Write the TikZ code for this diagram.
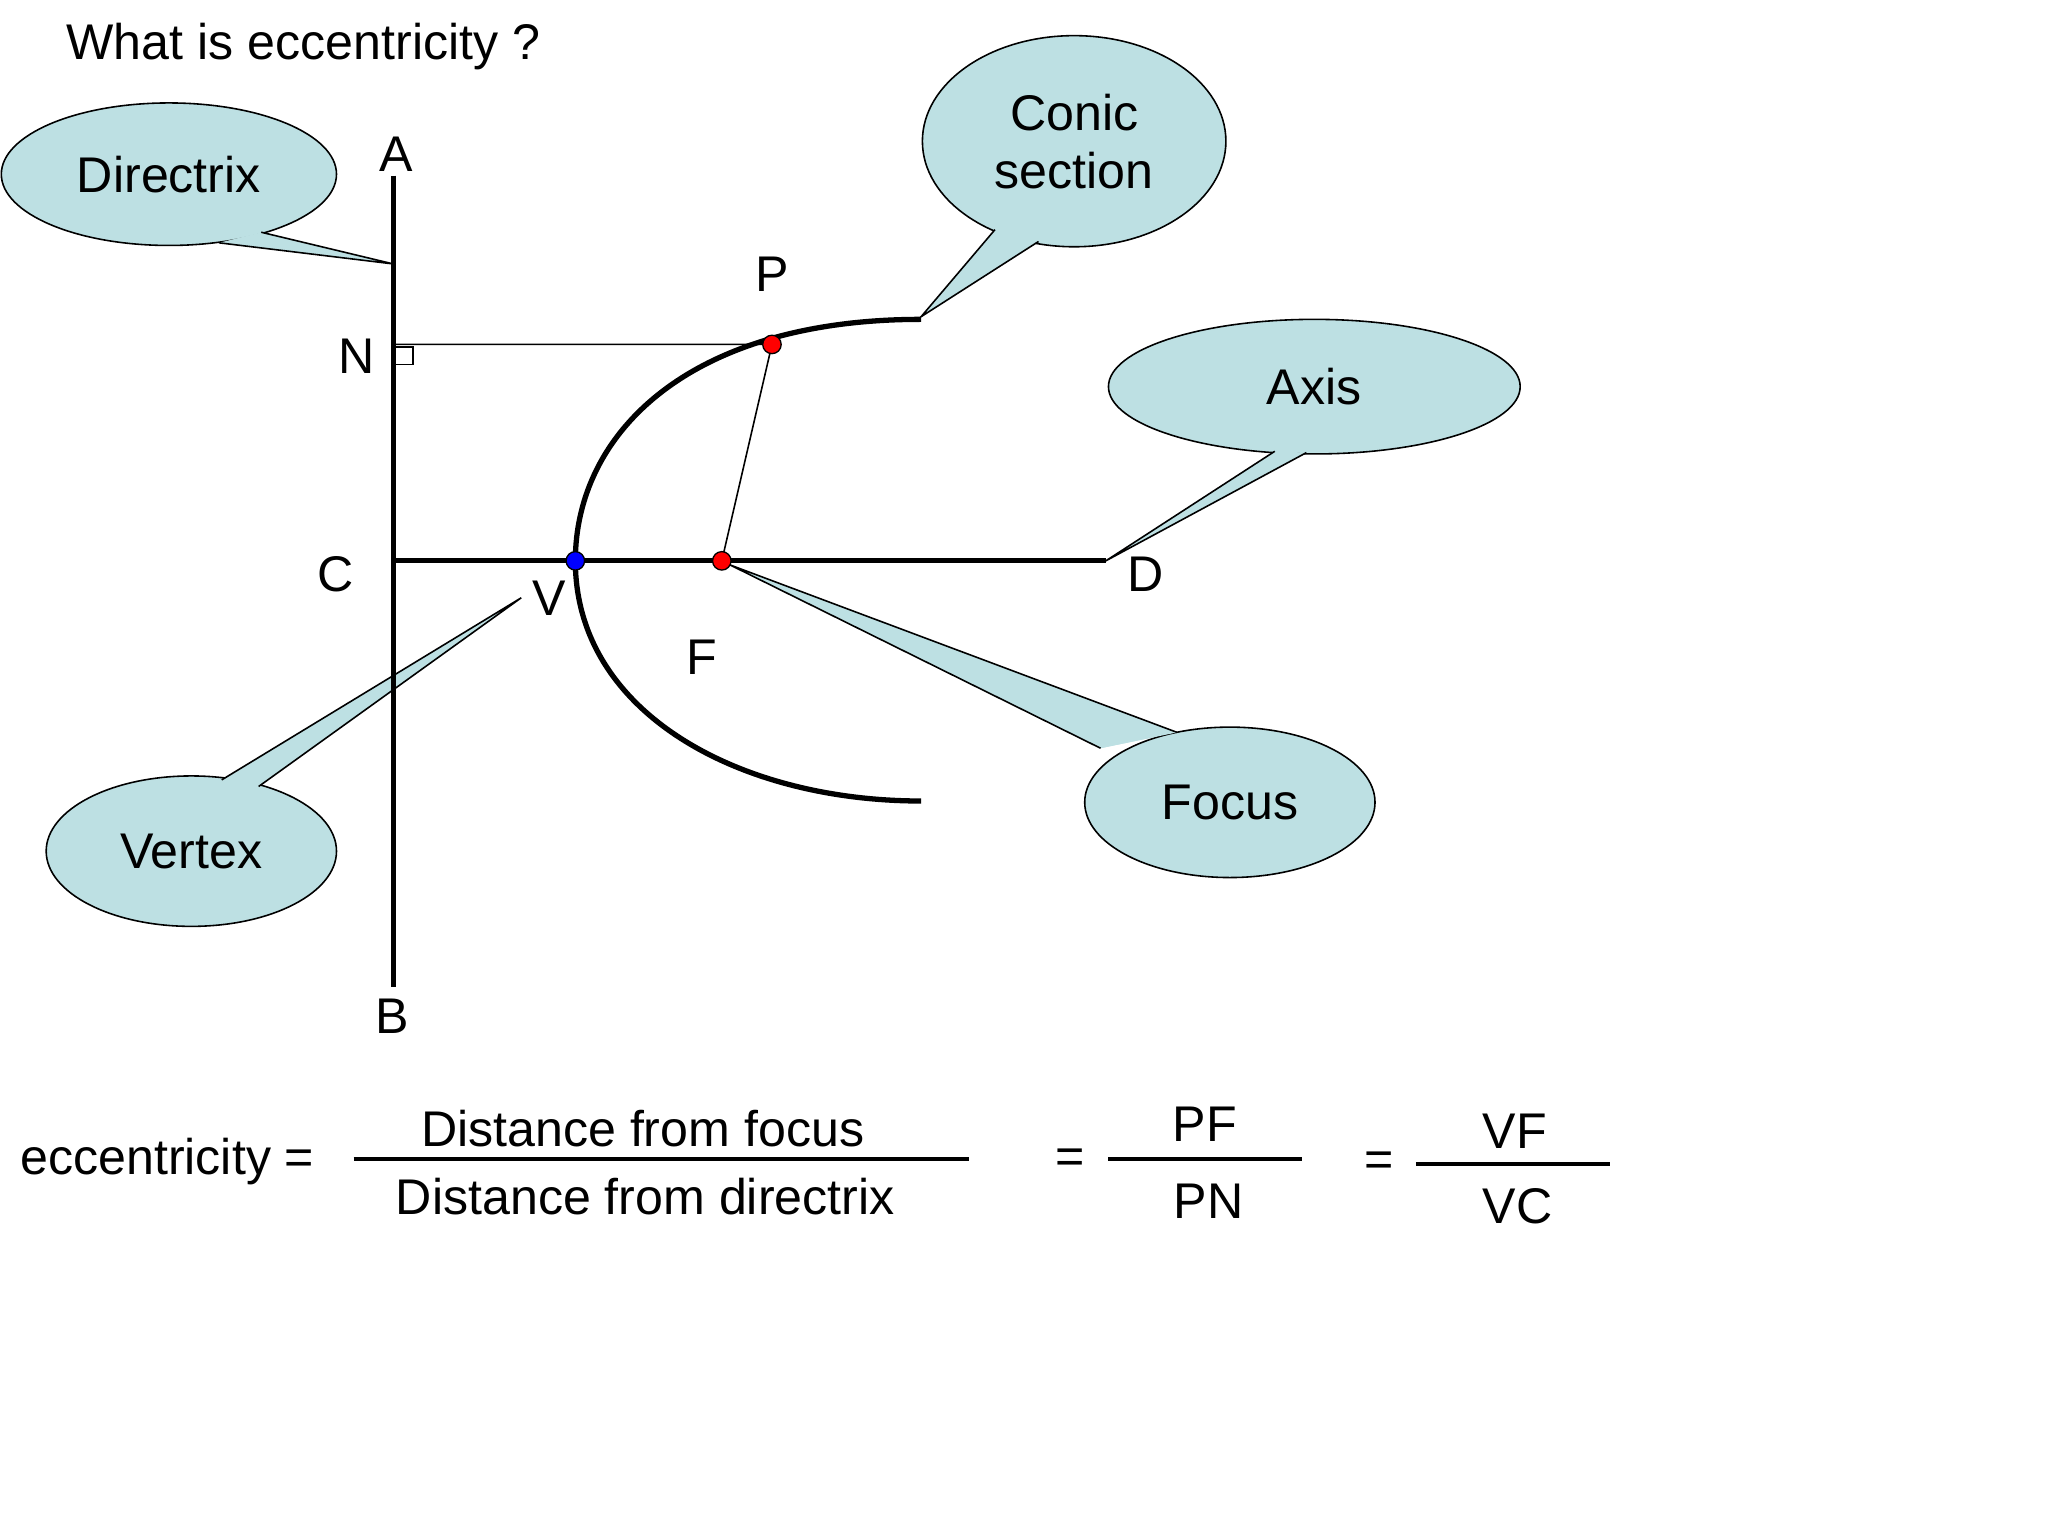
\documentclass[tikz,border=0pt]{standalone}
\usepackage{fontspec}
\setmainfont{Liberation Sans}
\definecolor{bub}{HTML}{BDE0E3}
\begin{document}
\begin{tikzpicture}[x=0.5pt,y=-0.5pt,
  txt/.style={inner sep=0pt,font=\fontsize{19}{22}\selectfont},
  thk/.style={line width=2pt},
  dot/.style={circle,draw=black,line width=0.5pt,minimum size=7pt,inner sep=0pt}]
\useasboundingbox (0,0) rectangle (1552,1164);
\node[txt,anchor=west] (title) at (50,35) {What is eccentricity ?};
% callouts
\newcommand\callout[9]{% cx cy rx ry tipx tipy b1x b1y b2x b2y
  \fill[bub] (#5,#6) -- (#7,#8) -- (#9) -- cycle;
}
\def\bubble#1#2#3#4#5#6#7#8#9{%
  \fill[bub] (#5) -- (#6) -- (#7) -- cycle;
  \filldraw[fill=bub,draw=black,line width=0.6pt] (#1,#2) ellipse [x radius=#3, y radius=#4];
  \fill[bub] (#5) -- (#6) -- (#7) -- cycle;
  \draw[line width=0.6pt] (#6) -- (#5) -- (#7);
  \node[txt,align=center] at (#1,#2) {#8#9};}
\bubble{128}{132}{127}{54}{298,200}{166,184}{198,176}{Directrix}{}
\bubble{814}{107}{115}{80}{698,240}{754,174}{787,183}{Conic\\section}{}
\bubble{996}{293}{156}{51}{838,425}{966,342}{990,343}{Axis}{}
\bubble{932}{608}{110}{57}{553,428}{834,567}{892,555}{Focus}{}
\bubble{145}{645}{110}{57}{395,453}{168,591}{196,596}{Vertex}{}
% geometry
\coordinate (A) at (298,133); \coordinate (B) at (298,748);
\coordinate (C) at (298,425); \coordinate (D) at (838,425);
\coordinate (N) at (298,261);
\draw[thk] (A) -- (B);
\draw[thk] (C) -- (D);
\draw[line width=0.6pt] (N) -- (585,261) -- (547,425);
\draw[line width=0.5pt] (298,263) rectangle (313,276);
\draw[thk] (698,242) .. controls (520,242) and (436,330) .. (436,425) .. controls (436,540) and (560,607) .. (698,607);
\node[dot,fill=red] (P) at (585,261) {};
\node[dot,fill=blue] (V) at (436,425) {};
\node[dot,fill=red] (F) at (547,425) {};
\node[txt] at (300,117) {A};
\node[txt] at (297,770) {B};
\node[txt] at (270,270) {N};
\node[txt] at (254,435) {C};
\node[txt] at (416,453) {V};
\node[txt] at (868,435) {D};
\node[txt] at (585,208) {P};
\node[txt] at (532,498) {F};
% formula
\node[txt,anchor=west] (ecc) at (15,880) {eccentricity =};
\draw[line width=1.6pt] (268,878) -- (734,878);
\node[txt] at (487,855) {Distance from focus};
\node[txt] at (489,907) {Distance from directrix};
\node[txt] at (811,880) {=};
\draw[line width=1.6pt] (840,878) -- (987,878);
\node[txt] at (913,852) {PF};
\node[txt] at (916,910) {PN};
\node[txt] at (1045,882) {=};
\draw[line width=1.6pt] (1073,882) -- (1220,882);
\node[txt] at (1148,857) {VF};
\node[txt] at (1150,914) {VC};
\end{tikzpicture}
\end{document}
